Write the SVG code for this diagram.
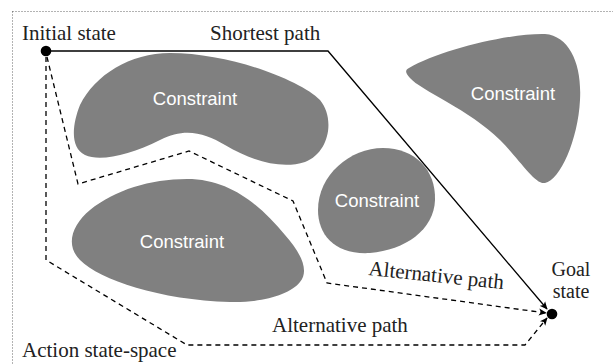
<svg xmlns="http://www.w3.org/2000/svg" width="613" height="364" viewBox="0 0 613 364">
<style>
.blob{fill:#808080;stroke:none}
.ctext{font-family:"Liberation Sans",Arial,sans-serif;font-size:18.5px;fill:#ffffff;text-anchor:middle}
.label{font-family:"Liberation Serif","Times New Roman",serif;font-size:21px;fill:#222}
.goal{font-family:"Liberation Serif","Times New Roman",serif;font-size:20px;fill:#222;text-anchor:middle}
.solid{fill:none;stroke:#000;stroke-width:1.3}
.dash{fill:none;stroke:#000;stroke-width:1.3;stroke-dasharray:5 4}
.border{fill:none;stroke:#666;stroke-width:1;stroke-dasharray:1 2}
</style>
<defs>
<marker id="arr" viewBox="0 0 10 10" refX="9" refY="5" markerWidth="8" markerHeight="8" markerUnits="userSpaceOnUse" orient="auto">
<path d="M0,0.5 L10,5 L0,9.5 L2.5,5 Z" fill="#000"/>
</marker>
</defs>
<rect class="border" x="12.5" y="11.5" width="640" height="400"/>
<g id="constraint1">
<path class="blob" d="M170,53 C230,53 300,80 320,100 C335,118 330,152 305,162 C280,170 250,160 225,145 C205,133 185,127 160,140 C130,155 100,162 85,155 C70,148 72,125 80,105 C95,75 130,53 170,53 Z"/>
<text class="ctext" x="195" y="105">Constraint</text>
</g>
<g id="constraint2">
<path class="blob" d="M409,68 C440,50 510,33 545,34 C570,36 582,65 580,100 C578,140 560,180 545,183 C535,185 520,160 500,140 C470,110 420,90 410,78 C405,73 405,70 409,68 Z"/>
<text class="ctext" x="513" y="100">Constraint</text>
</g>
<g id="constraint3">
<path class="blob" d="M383,148 C415,148 436,170 435,200 C434,230 405,250 370,253 C335,255 318,235 318,210 C318,175 350,148 383,148 Z"/>
<text class="ctext" x="377" y="207">Constraint</text>
</g>
<g id="constraint4">
<path class="blob" d="M187,179 C230,179 260,205 285,235 C300,252 310,270 300,282 C290,295 260,303 230,302 C160,300 100,280 80,260 C65,245 72,225 90,210 C115,190 150,179 187,179 Z"/>
<text class="ctext" x="182" y="248">Constraint</text>
</g>
<g id="connectors">
<path class="solid" d="M46,51 L328,51 L547,309" marker-end="url(#arr)"/>
<path class="dash" d="M47,57 L78,184 L189,151 L293,201 L327,283 L546,313" marker-end="url(#arr)"/>
<path class="dash" d="M46,57 L46,260 L187,345 L525,345 L547,318" marker-end="url(#arr)"/>
</g>
<g id="initial-state">
<circle cx="46" cy="51" r="5.3" fill="#000"/>
<text class="label" x="22" y="40">Initial state</text>
</g>
<g id="goal-state">
<circle cx="552" cy="314" r="5.3" fill="#000"/>
<text class="goal" x="571" y="275.5">Goal</text>
<text class="goal" x="571" y="298">state</text>
</g>
<g id="labels">
<text class="label" x="210" y="40">Shortest path</text>
<text class="label" x="368" y="275" transform="rotate(6 368 275)">Alternative path</text>
<text class="label" x="272" y="332">Alternative path</text>
<text class="label" x="22" y="357">Action state-space</text>
</g>
</svg>
